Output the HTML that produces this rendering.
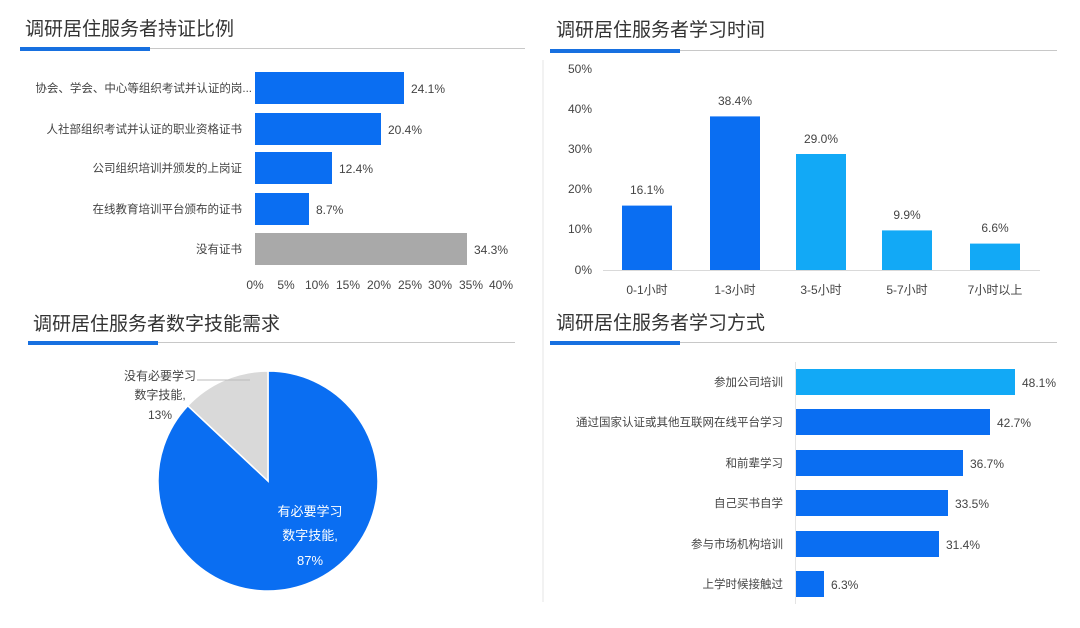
<!DOCTYPE html>
<html><head><meta charset="utf-8"><style>
html,body{margin:0;padding:0;background:#fff;}
svg{display:block;font-family:"Liberation Sans","Noto Sans CJK SC",sans-serif;}
</style></head><body>
<svg width="1080" height="628" viewBox="0 0 1080 628" xmlns="http://www.w3.org/2000/svg">
<rect width="1080" height="628" fill="#fff"/>
<line x1="543" y1="60" x2="543" y2="602" stroke="#e4e4e4" stroke-width="1"/>

<text x="25" y="35" font-size="19" fill="#333">调研居住服务者持证比例</text>
<line x1="150" y1="48.5" x2="525" y2="48.5" stroke="#c8c8c8" stroke-width="1"/>
<rect x="20" y="47" width="130" height="4" fill="#1770e0"/>
<g font-size="11.5" fill="#444" text-anchor="end">
<text x="252" y="92">协会、学会、中心等组织考试并认证的岗...</text>
<text x="242" y="133">人社部组织考试并认证的职业资格证书</text>
<text x="242" y="172">公司组织培训并颁发的上岗证</text>
<text x="242" y="213">在线教育培训平台颁布的证书</text>
<text x="242" y="253">没有证书</text>
</g>
<rect x="255" y="72" width="149" height="32" fill="#0a6ef2"/>
<rect x="255" y="113" width="126" height="32" fill="#0a6ef2"/>
<rect x="255" y="152" width="77" height="32" fill="#0a6ef2"/>
<rect x="255" y="193" width="54" height="32" fill="#0a6ef2"/>
<rect x="255" y="233" width="212" height="32" fill="#a9a9a9"/>
<g font-size="12" fill="#444">
<text x="411" y="93">24.1%</text>
<text x="388" y="134">20.4%</text>
<text x="339" y="173">12.4%</text>
<text x="316" y="214">8.7%</text>
<text x="474" y="254">34.3%</text>
</g>
<g font-size="12" fill="#444" text-anchor="middle">
<text x="255" y="289">0%</text><text x="286" y="289">5%</text><text x="317" y="289">10%</text>
<text x="348" y="289">15%</text><text x="379" y="289">20%</text><text x="410" y="289">25%</text>
<text x="440" y="289">30%</text><text x="471" y="289">35%</text><text x="501" y="289">40%</text>
</g>

<text x="556" y="36" font-size="19" fill="#333">调研居住服务者学习时间</text>
<line x1="680" y1="50.5" x2="1057" y2="50.5" stroke="#c8c8c8" stroke-width="1"/>
<rect x="550" y="49" width="130" height="4" fill="#1770e0"/>
<g font-size="12" fill="#444" text-anchor="end">
<text x="592" y="73">50%</text><text x="592" y="113">40%</text><text x="592" y="153">30%</text>
<text x="592" y="193">20%</text><text x="592" y="233">10%</text><text x="592" y="274">0%</text>
</g>
<line x1="603" y1="270.5" x2="1040" y2="270.5" stroke="#d9d9d9"/>
<rect x="622" y="205.6" width="50" height="64.4" fill="#0a6ef2"/>
<rect x="710" y="116.4" width="50" height="153.6" fill="#0a6ef2"/>
<rect x="796" y="154" width="50" height="116" fill="#12a9f6"/>
<rect x="882" y="230.4" width="50" height="39.6" fill="#12a9f6"/>
<rect x="970" y="243.6" width="50" height="26.4" fill="#12a9f6"/>
<g font-size="12" fill="#444" text-anchor="middle">
<text x="647" y="194">16.1%</text><text x="735" y="105">38.4%</text><text x="821" y="143">29.0%</text>
<text x="907" y="219">9.9%</text><text x="995" y="232">6.6%</text>
<text x="647" y="294">0-1小时</text><text x="735" y="294">1-3小时</text><text x="821" y="294">3-5小时</text>
<text x="907" y="294">5-7小时</text><text x="995" y="294">7小时以上</text>
</g>

<text x="33" y="330" font-size="19" fill="#333">调研居住服务者数字技能需求</text>
<line x1="158" y1="342.5" x2="515" y2="342.5" stroke="#c8c8c8" stroke-width="1"/>
<rect x="28" y="341" width="130" height="4" fill="#1770e0"/>
<path d="M268,481 L268,371 A110,110 0 1 1 187.8,405.7 Z" fill="#0a6ef2" stroke="#fff" stroke-width="1.5"/>
<path d="M268,481 L187.8,405.7 A110,110 0 0 1 268,371 Z" fill="#d9d9d9" stroke="#fff" stroke-width="1.5"/>
<line x1="197" y1="380" x2="250" y2="380" stroke="#bbb"/>
<g font-size="12" fill="#444" text-anchor="middle">
<text x="160" y="380">没有必要学习</text>
<text x="160" y="399">数字技能,</text>
<text x="160" y="419">13%</text>
</g>
<g font-size="13" fill="#fff" text-anchor="middle">
<text x="310" y="516">有必要学习</text>
<text x="310" y="540">数字技能,</text>
<text x="310" y="565">87%</text>
</g>

<text x="556" y="329" font-size="19" fill="#333">调研居住服务者学习方式</text>
<line x1="680" y1="342.5" x2="1057" y2="342.5" stroke="#c8c8c8" stroke-width="1"/>
<rect x="550" y="341" width="130" height="4" fill="#1770e0"/>
<line x1="795.5" y1="362" x2="795.5" y2="604" stroke="#e4e4e4"/>
<g font-size="11.5" fill="#444" text-anchor="end">
<text x="783" y="386">参加公司培训</text>
<text x="783" y="426">通过国家认证或其他互联网在线平台学习</text>
<text x="783" y="467">和前辈学习</text>
<text x="783" y="507">自己买书自学</text>
<text x="783" y="548">参与市场机构培训</text>
<text x="783" y="588">上学时候接触过</text>
</g>
<rect x="796" y="369" width="219" height="26" fill="#12a9f6"/>
<rect x="796" y="409" width="194" height="26" fill="#0a6ef2"/>
<rect x="796" y="450" width="167" height="26" fill="#0a6ef2"/>
<rect x="796" y="490" width="152" height="26" fill="#0a6ef2"/>
<rect x="796" y="531" width="143" height="26" fill="#0a6ef2"/>
<rect x="796" y="571" width="28" height="26" fill="#0a6ef2"/>
<g font-size="12" fill="#444">
<text x="1022" y="387">48.1%</text>
<text x="997" y="427">42.7%</text>
<text x="970" y="468">36.7%</text>
<text x="955" y="508">33.5%</text>
<text x="946" y="549">31.4%</text>
<text x="831" y="589">6.3%</text>
</g>
</svg>
</body></html>
